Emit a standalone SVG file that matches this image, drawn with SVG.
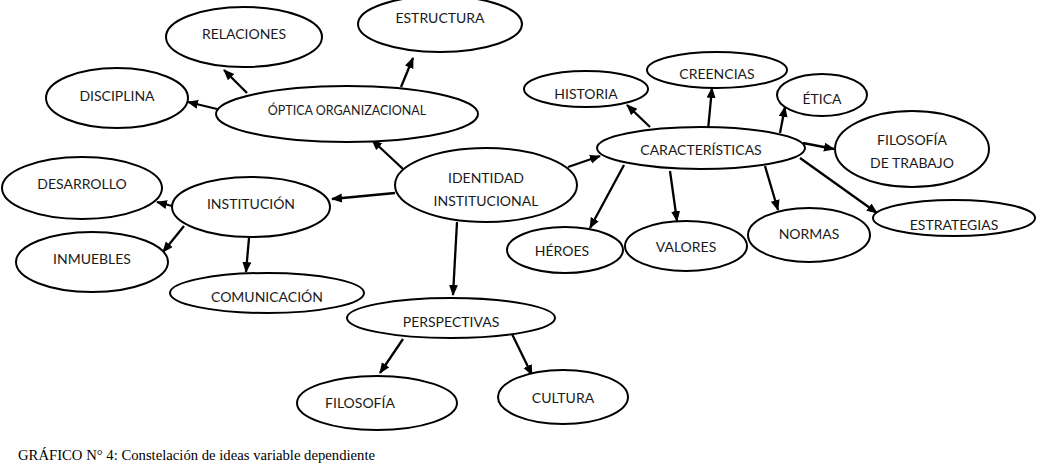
<svg xmlns="http://www.w3.org/2000/svg" width="1047" height="471" viewBox="0 0 1047 471">
<style>
.n ellipse{fill:#fff;stroke:#000;stroke-width:2}
.n text{font-family:Lato,"Open Sans","Liberation Sans",sans-serif;font-size:14px;fill:#1a1a1a;text-anchor:middle;dominant-baseline:central}
.n text.s{font-size:12.5px}
#edges line{stroke:#000;stroke-width:2.3;marker-end:url(#ah)}
.cap{font-family:"Liberation Serif",serif;font-size:14.7px;fill:#000}
</style>
<defs>
<marker id="ah" markerUnits="userSpaceOnUse" markerWidth="12" markerHeight="10" refX="10" refY="4.5" orient="auto">
<path d="M0,0 L11,4.5 L0,9 Z" fill="#000"/>
</marker>
</defs>
<rect width="1047" height="471" fill="#fff"/>
<g id="edges">
<line x1="217" y1="109" x2="188" y2="102"/>
<line x1="247" y1="93" x2="224" y2="70"/>
<line x1="401" y1="87" x2="413" y2="58"/>
<line x1="403" y1="169" x2="372" y2="140"/>
<line x1="395" y1="193" x2="332" y2="199"/>
<line x1="172" y1="206" x2="157" y2="202"/>
<line x1="184" y1="226" x2="163" y2="252"/>
<line x1="249" y1="238" x2="246" y2="272"/>
<line x1="457" y1="222" x2="453" y2="295"/>
<line x1="403" y1="339" x2="380" y2="373"/>
<line x1="512" y1="334" x2="532" y2="375"/>
<line x1="568" y1="167" x2="600" y2="156"/>
<line x1="650" y1="127" x2="627" y2="105"/>
<line x1="708" y1="130" x2="712" y2="88"/>
<line x1="780" y1="133" x2="785" y2="107"/>
<line x1="803" y1="143" x2="834" y2="149"/>
<line x1="800" y1="158" x2="877" y2="213"/>
<line x1="765" y1="166" x2="778" y2="210"/>
<line x1="670" y1="171" x2="677" y2="221"/>
<line x1="624" y1="165" x2="590" y2="228"/>
</g>
<g id="relaciones" class="n"><ellipse cx="244" cy="37" rx="78" ry="30"/><text x="244" y="33">RELACIONES</text></g>
<g id="estructura" class="n"><ellipse cx="440" cy="24" rx="82" ry="28"/><text x="440" y="17">ESTRUCTURA</text></g>
<g id="disciplina" class="n"><ellipse cx="117" cy="98" rx="71" ry="30"/><text x="117" y="95">DISCIPLINA</text></g>
<g id="optica" class="n"><ellipse cx="347" cy="114" rx="131" ry="28"/><text class="s" x="347" y="110">ÓPTICA ORGANIZACIONAL</text></g>
<g id="identidad" class="n"><ellipse cx="486" cy="185" rx="91" ry="37"/><text x="486" y="177">IDENTIDAD</text><text x="486" y="200">INSTITUCIONAL</text></g>
<g id="institucion" class="n"><ellipse cx="251" cy="207" rx="79" ry="30"/><text x="251" y="203">INSTITUCIÓN</text></g>
<g id="desarrollo" class="n"><ellipse cx="82" cy="188" rx="80" ry="31"/><text x="82" y="183">DESARROLLO</text></g>
<g id="inmuebles" class="n"><ellipse cx="92" cy="262" rx="76" ry="30"/><text x="92" y="258">INMUEBLES</text></g>
<g id="comunicacion" class="n"><ellipse cx="267" cy="293" rx="97" ry="20"/><text x="267" y="296">COMUNICACIÓN</text></g>
<g id="perspectivas" class="n"><ellipse cx="451" cy="318" rx="104" ry="20"/><text x="451" y="321">PERSPECTIVAS</text></g>
<g id="filosofia" class="n"><ellipse cx="377" cy="403" rx="80" ry="27"/><text x="360" y="402">FILOSOFÍA</text></g>
<g id="cultura" class="n"><ellipse cx="563" cy="397" rx="65" ry="27"/><text x="563" y="397">CULTURA</text></g>
<g id="caracteristicas" class="n"><ellipse cx="701" cy="148" rx="104" ry="21"/><text x="701" y="149">CARACTERÍSTICAS</text></g>
<g id="historia" class="n"><ellipse cx="586" cy="89" rx="62" ry="18"/><text x="586" y="93">HISTORIA</text></g>
<g id="creencias" class="n"><ellipse cx="717" cy="70" rx="70" ry="18"/><text x="717" y="73">CREENCIAS</text></g>
<g id="etica" class="n"><ellipse cx="822" cy="95" rx="45" ry="21"/><text x="822" y="98">ÉTICA</text></g>
<g id="filosofia-trabajo" class="n"><ellipse cx="912" cy="149" rx="77" ry="38"/><text x="912" y="139">FILOSOFÍA</text><text x="912" y="162">DE TRABAJO</text></g>
<g id="estrategias" class="n"><ellipse cx="954" cy="218" rx="81" ry="18"/><text x="954" y="224">ESTRATEGIAS</text></g>
<g id="normas" class="n"><ellipse cx="809" cy="235" rx="61" ry="27"/><text x="809" y="233">NORMAS</text></g>
<g id="valores" class="n"><ellipse cx="686" cy="246" rx="61" ry="25"/><text x="686" y="246">VALORES</text></g>
<g id="heroes" class="n"><ellipse cx="565" cy="250" rx="58" ry="23"/><text x="562" y="250">HÉROES</text></g>
<text class="cap" x="18" y="460">GRÁFICO N° 4: Constelación de ideas variable dependiente</text>
</svg>
